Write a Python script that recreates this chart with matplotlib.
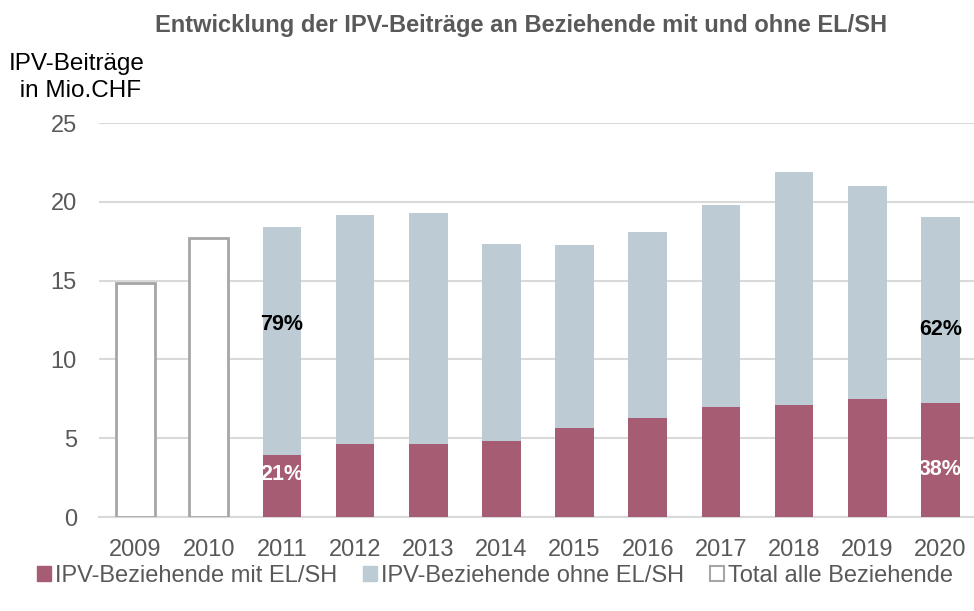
import matplotlib
matplotlib.use("Agg")
import matplotlib.pyplot as plt
from matplotlib.patches import Patch
import numpy as np

years = ["2009", "2010", "2011", "2012", "2013", "2014", "2015", "2016", "2017", "2018", "2019", "2020"]
total_alle = [14.85, 17.72, None, None, None, None, None, None, None, None, None, None]
mit_elsh = [0, 0, 3.93, 4.63, 4.65, 4.82, 5.65, 6.28, 6.98, 7.09, 7.49, 7.23]
ohne_elsh = [0, 0, 14.47, 14.53, 14.62, 12.50, 11.61, 11.80, 12.82, 14.80, 13.51, 11.81]
yticks = [0, 5, 10, 15, 20, 25]

title = "Entwicklung der IPV-Beiträge an Beziehende mit und ohne EL/SH"
ylabel = "IPV-Beiträge\n in Mio.CHF"
legend_labels = ["IPV-Beziehende mit EL/SH", "IPV-Beziehende ohne EL/SH", "Total alle Beziehende"]

RED = "#A65C72"
BLUE = "#BDCCD4"
EDGE = "#A6A6A6"
GRID = "#D9D9D9"
TXT = "#595959"

plt.rcParams["font.family"] = ["Liberation Sans", "DejaVu Sans"]

fig = plt.figure(figsize=(9.74, 6.11), dpi=100)
ax = fig.add_axes([99 / 974, 1 - 517 / 611, (977 - 99) / 974, (517 - 123) / 611])

x = np.arange(len(years))
w = 0.53

for i, t in enumerate(total_alle):
    if t is not None:
        ax.bar(x[i], t, width=w, facecolor="white", edgecolor=EDGE, linewidth=2, zorder=3)

idx = [i for i in range(len(years)) if total_alle[i] is None]
ax.bar(x[idx], [mit_elsh[i] for i in idx], width=w, color=RED, zorder=3)
ax.bar(x[idx], [ohne_elsh[i] for i in idx], width=w, bottom=[mit_elsh[i] for i in idx], color=BLUE, zorder=3)

# percentage labels for first and last stacked year
for i, ymit, yohne in [(2, 2.7, 12.2), (11, 3.0, 11.9)]:
    tot = mit_elsh[i] + ohne_elsh[i]
    p_mit = round(100 * mit_elsh[i] / tot)
    p_ohne = 100 - p_mit
    ax.text(x[i], ymit, f"{p_mit}%", ha="center", va="center", color="white",
            fontsize=15.5, fontweight="bold", zorder=4)
    ax.text(x[i], yohne, f"{p_ohne}%", ha="center", va="center", color="black",
            fontsize=15.5, fontweight="bold", zorder=4)

ax.set_xlim(-0.5, len(years) - 0.5)
ax.set_ylim(0, 25)
ax.set_yticks(yticks)
ax.set_xticks(x)
ax.set_xticklabels(years)
ax.grid(axis="y", color=GRID, linewidth=1.5, zorder=0)
ax.set_axisbelow(True)
for s in ["top", "right", "left"]:
    ax.spines[s].set_visible(False)
ax.spines["bottom"].set_color(GRID)
ax.spines["bottom"].set_linewidth(1.5)
ax.tick_params(axis="both", length=0, labelsize=17, labelcolor=TXT)
ax.tick_params(axis="y", pad=16)
ax.tick_params(axis="x", pad=16)

fig.text(0.535, 0.959, title, ha="center", va="center", fontsize=17, fontweight="bold", color=TXT)
fig.text(0.079, 0.873, ylabel, ha="center", va="center", fontsize=17.5, color="black", linespacing=1.3)

handles = [Patch(facecolor=RED, edgecolor=RED),
           Patch(facecolor=BLUE, edgecolor=BLUE),
           Patch(facecolor="white", edgecolor=EDGE, linewidth=1.5)]
fig.legend(handles, legend_labels, loc="center", bbox_to_anchor=(0.508, 0.057), ncol=3, frameon=False,
           fontsize=17, handlelength=0.6, handleheight=0.6, handletextpad=0.15, columnspacing=1.1,
           labelcolor=TXT)

fig.savefig("out.png", dpi=100)
